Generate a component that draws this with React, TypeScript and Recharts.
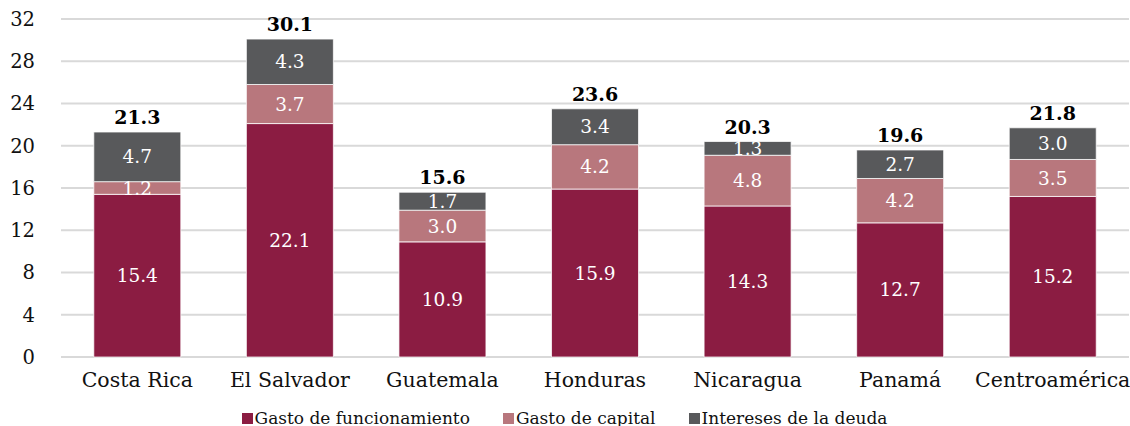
import { BarChart, Bar, XAxis, YAxis, CartesianGrid, Legend, LabelList } from 'recharts'

const countries = ['Costa Rica', 'El Salvador', 'Guatemala', 'Honduras', 'Nicaragua', 'Panamá', 'Centroamérica']
const funcionamiento = [15.4, 22.1, 10.9, 15.9, 14.3, 12.7, 15.2]
const capital = [1.2, 3.7, 3.0, 4.2, 4.8, 4.2, 3.5]
const intereses = [4.7, 4.3, 1.7, 3.4, 1.3, 2.7, 3.0]
const totals = [21.3, 30.1, 15.6, 23.6, 20.3, 19.6, 21.8]
const yTicks = [0, 4, 8, 12, 16, 20, 24, 28, 32]

const FONT = '"DejaVu Serif", serif'
const MAROON = '#8b1c42'
const PINK = '#b8777d'
const GRAY = '#58595b'

const data = countries.map((name, i) => ({
    name,
    funcionamiento: funcionamiento[i],
    capital: capital[i],
    intereses: intereses[i],
    total: totals[i]
}))

const legendItems = [
    { label: 'Gasto de funcionamiento', color: MAROON },
    { label: 'Gasto de capital', color: PINK },
    { label: 'Intereses de la deuda', color: GRAY }
]

function SeriesLegend() {
    return (
        <div style={{ display: 'flex', justifyContent: 'center', alignItems: 'center', height: 24, lineHeight: '24px', fontFamily: FONT, fontSize: 17, color: '#111' }}>
            {legendItems.map((item, i) => (
                <div key={item.label} style={{ display: 'flex', alignItems: 'center', marginLeft: i === 0 ? 0 : 33 }}>
                    <span style={{ width: 11, height: 11, background: item.color, marginRight: 2, display: 'inline-block' }} />
                    <span>{item.label}</span>
                </div>
            ))}
        </div>
    )
}

const fmt = (v: any) => Number(v).toFixed(1)

export default function App() {
    return (
        <div style={{ position: 'absolute', left: 0, top: 0, background: '#fff' }}>
            <BarChart
                width={1130}
                height={426}
                data={data}
                margin={{ top: 19, right: 1, left: 0, bottom: 0 }}
                barCategoryGap="21.5%"
                style={{ fontFamily: FONT }}
            >
                <CartesianGrid vertical={false} stroke="#d9d9d9" strokeWidth={2} />
                <XAxis
                    dataKey="name"
                    axisLine={false}
                    tickLine={false}
                    tickSize={0}
                    tickMargin={15}
                    height={45}
                    interval={0}
                    tick={{ fill: '#111', fontSize: 20.5, fontFamily: FONT }}
                />
                <YAxis
                    domain={[0, 32]}
                    ticks={yTicks}
                    axisLine={false}
                    tickLine={false}
                    tickSize={0}
                    tickMargin={26}
                    width={61}
                    tick={{ fill: '#111', fontSize: 19.5, fontFamily: FONT }}
                />
                <Legend verticalAlign="bottom" content={<SeriesLegend />} wrapperStyle={{ bottom: -4 }} />
                <Bar dataKey="funcionamiento" stackId="g" fill={MAROON} stroke="#fff" strokeWidth={0.75} isAnimationActive={false}>
                    <LabelList dataKey="funcionamiento" position="center" formatter={fmt} fill="#fff" fontSize={18.5} fontFamily={FONT} />
                </Bar>
                <Bar dataKey="capital" stackId="g" fill={PINK} stroke="#fff" strokeWidth={0.75} isAnimationActive={false}>
                    <LabelList dataKey="capital" position="center" formatter={fmt} fill="#fff" fontSize={18.5} fontFamily={FONT} />
                </Bar>
                <Bar dataKey="intereses" stackId="g" fill={GRAY} stroke="#fff" strokeWidth={0.75} isAnimationActive={false}>
                    <LabelList dataKey="intereses" position="center" formatter={fmt} fill="#fff" fontSize={18.5} fontFamily={FONT} />
                    <LabelList dataKey="total" position="top" offset={8} formatter={fmt} fill="#000" fontSize={19} fontWeight="bold" fontFamily={FONT} />
                </Bar>
            </BarChart>
        </div>
    )
}
